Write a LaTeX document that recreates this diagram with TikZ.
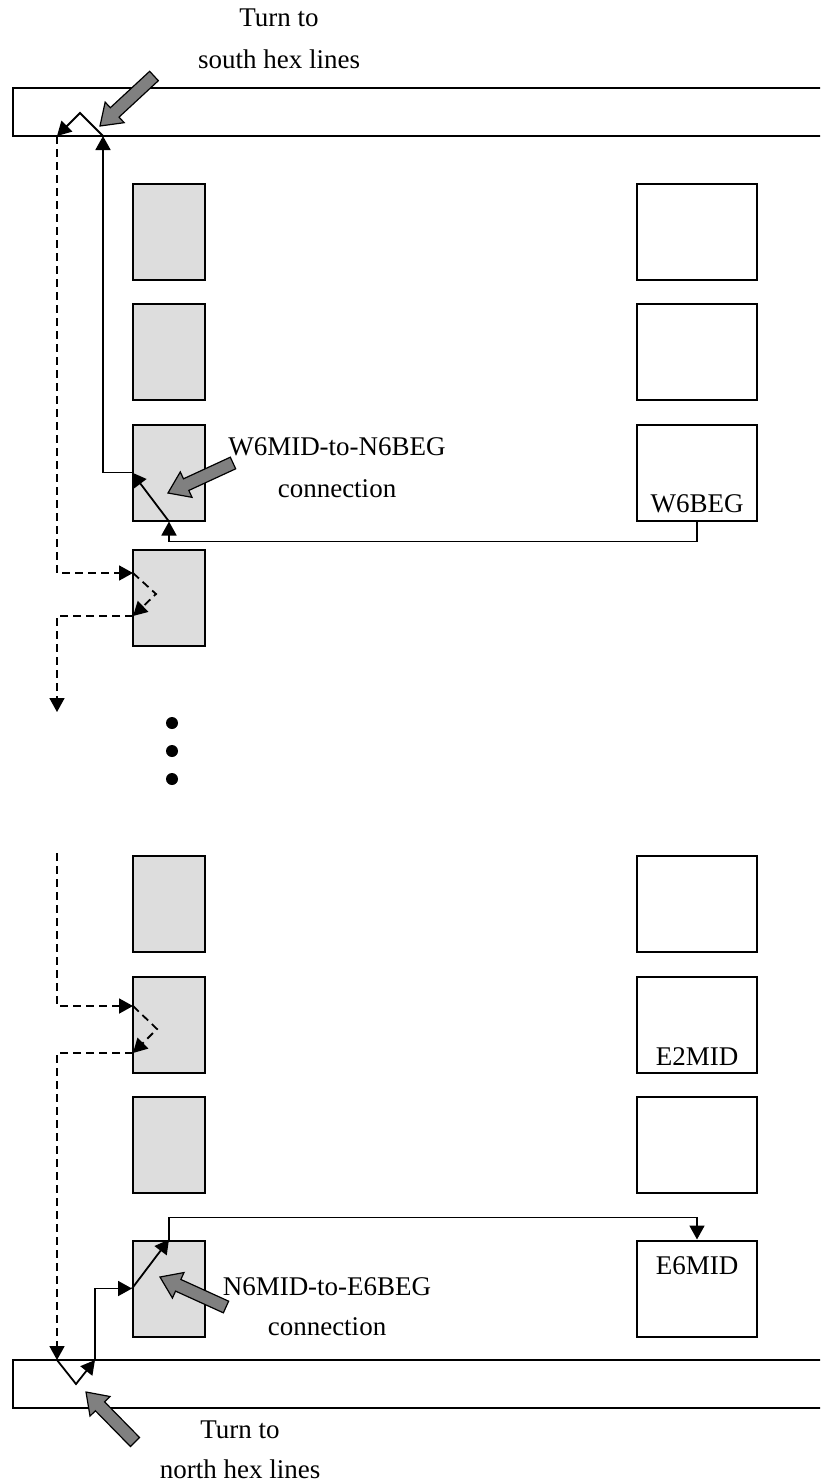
\documentclass[tikz,border=0pt]{standalone}
\usepackage{fontspec}
\setmainfont{Liberation Serif}
\usetikzlibrary{arrows.meta,calc}
\definecolor{boxgray}{HTML}{DDDDDD}
\definecolor{arrgray}{HTML}{808080}
\newcommand\blockarrow[2]{%
  \coordinate (ba-h) at ($(#2)!10pt!(#1)$);
  \draw[blockarr] (#2) -- ($(ba-h)!7pt!90:(#1)$) -- ($(ba-h)!3.2pt!90:(#1)$)
    -- ($(#1)!3.2pt!-90:(ba-h)$) -- ($(#1)!3.2pt!90:(ba-h)$)
    -- ($(ba-h)!3.2pt!-90:(#1)$) -- ($(ba-h)!7pt!-90:(#1)$) -- cycle;}
\begin{document}
\begin{tikzpicture}[x=0.5pt,y=-0.5pt,
  font=\fontsize{13.5pt}{21pt}\selectfont,
  graybox/.style={draw,line width=1pt,fill=boxgray,minimum width=36pt,minimum height=48pt,inner sep=0pt},
  whitebox/.style={draw,line width=1pt,fill=white,minimum width=60pt,minimum height=48pt,inner sep=0pt},
  conn/.style={line width=0.9pt,-{Triangle[length=7pt,width=7.5pt]}},
  dconn/.style={conn,dash pattern=on 4pt off 2.5pt},
  blockarr/.style={draw,line width=0.6pt,fill=arrgray,line join=miter},
  lbl/.style={anchor=base,inner sep=0pt}]
\path[use as bounding box] (0,0) rectangle (820,1483);
\clip (0,0) rectangle (820,1483);

% bars
\draw[line width=1pt] (13,88) rectangle (840,136);
\draw[line width=1pt] (13,1360) rectangle (840,1408);

% top gray column
\node[graybox] (g1) at (169,232) {};
\node[graybox] (g2) at (169,352) {};
\node[graybox] (g3) at (169,472.5) {};
\node[graybox] (g4) at (169,598) {};
% top white column
\node[whitebox] (w1) at (697,232) {};
\node[whitebox] (w2) at (697,352) {};
\node[whitebox] (w3) at (697,472.5) {};
\node[lbl] (w6beg) at (697,512) {W6BEG};

% bottom gray column
\node[graybox] (h1) at (169,904) {};
\node[graybox] (h2) at (169,1024.5) {};
\node[graybox] (h3) at (169,1144.5) {};
\node[graybox] (h4) at (169,1288.5) {};
% bottom white column
\node[whitebox] (e1) at (697,904) {};
\node[whitebox] (e2) at (697,1024.5) {};
\node[whitebox] (e3) at (697,1144.5) {};
\node[whitebox] (e4) at (697,1288.5) {};
\node[lbl] (e2mid) at (697,1065) {E2MID};
\node[lbl] (e6mid) at (697,1274) {E6MID};

% dots
\fill (172,723) circle[radius=6];
\fill (172,751) circle[radius=6];
\fill (172,779) circle[radius=6];

% coordinates
\coordinate (tb1) at (103,136);
\coordinate (tp)  at (80,113);
\coordinate (tb2) at (57,136);
\coordinate (g4a) at (133,573);
\coordinate (g4m) at (156,594);
\coordinate (g4b) at (133,616);
\coordinate (d1)  at (57,712);
\coordinate (d2)  at (57,853);
\coordinate (h2a) at (133,1006);
\coordinate (h2m) at (157,1029);
\coordinate (h2b) at (133,1053);
\coordinate (bb1) at (57,1360);
\coordinate (bp)  at (76,1384);
\coordinate (bb2) at (95,1360);

% top connections
\draw[conn] (w3.south) -- ++(0,20) -| (g3.south);
\draw[conn] (g3.south) -- (g3.west);
\draw[conn] (g3.west) -| (tb1);
\draw[conn] (tb1) -- (tp) -- (tb2);
\draw[dconn] (tb2) |- (g4a);
\draw[dconn] (g4a) -- (g4m) -- (g4b);
\draw[dconn] (g4b) -| (d1);

% bottom connections
\draw[dconn] (d2) |- (h2a);
\draw[dconn] (h2a) -- (h2m) -- (h2b);
\draw[dconn] (h2b) -| (bb1);
\draw[conn] (bb1) -- (bp) -- (bb2);
\draw[conn] (bb2) |- (h4.west);
\draw[conn] (h4.west) -- (h4.north);
\draw[conn] (h4.north) -- ++(0,-22) -| (e4.north);

% labels
\node[lbl] (t1a) at (279,26) {Turn to};
\node[lbl] (t1b) at (279,68) {south hex lines};
\node[lbl] (t2a) at (337,455) {W6MID-to-N6BEG};
\node[lbl] (t2b) at (337,497) {connection};
\node[lbl] (t3a) at (327,1295) {N6MID-to-E6BEG};
\node[lbl] (t3b) at (327,1335) {connection};
\node[lbl] (t4a) at (240,1438) {Turn to};
\node[lbl] (t4b) at (240,1478) {north hex lines};

% block arrows
\coordinate (a1s) at (154,76);   \coordinate (a1t) at (100,126);
\coordinate (a2s) at (233,463);  \coordinate (a2t) at (168,493);
\coordinate (a3s) at (226,1307); \coordinate (a3t) at (160,1277);
\coordinate (a4s) at (135,1442); \coordinate (a4t) at (86,1392);
\blockarrow{a1s}{a1t}
\blockarrow{a2s}{a2t}
\blockarrow{a3s}{a3t}
\blockarrow{a4s}{a4t}
\end{tikzpicture}
\end{document}
